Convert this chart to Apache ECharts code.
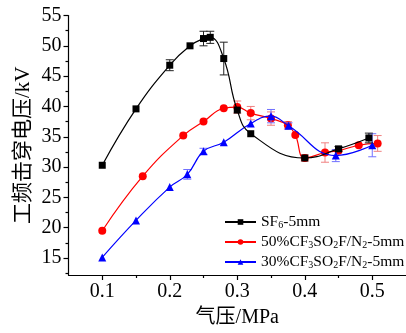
<!DOCTYPE html>
<html>
<head>
<meta charset="utf-8">
<script src="https://cdn.jsdelivr.net/npm/echarts@6/dist/echarts.min.js"></script>
<style>
  html, body { margin: 0; padding: 0; background: #fff; }
  #chart { width: 406px; height: 333px; }
</style>
</head>
<body>
<div id="chart"></div>
<script>
// Breakdown voltage vs. gas pressure, 5 mm gap
const seriesNames = ['SF6-5mm', '50%CF3SO2F/N2-5mm', '30%CF3SO2F/N2-5mm'];

const sf6Pressure = [0.1, 0.15, 0.2, 0.23, 0.25, 0.26, 0.28, 0.3, 0.32, 0.4, 0.45, 0.495];
const sf6Voltage  = [30.3, 39.6, 46.8, 50.0, 51.2, 51.4, 47.9, 39.4, 35.5, 31.5, 33.0, 34.8];
const sf6Err      = [0, 0, 0.9, 0, 1.2, 1.0, 2.7, 0, 0, 0, 0.4, 0.8];

const mix50Pressure = [0.1, 0.16, 0.22, 0.25, 0.28, 0.3, 0.32, 0.35, 0.375, 0.386, 0.4, 0.43, 0.45, 0.48, 0.508];
const mix50Voltage  = [19.5, 28.5, 35.2, 37.5, 39.7, 39.9, 38.9, 38.0, 36.9, 35.3, 31.5, 32.4, 32.7, 33.6, 33.9];
const mix50Err      = [0, 0, 0, 0, 0, 1.0, 1.1, 1.1, 0.6, 0, 0.5, 1.6, 0, 0, 1.3];

const mix30Pressure = [0.1, 0.15, 0.2, 0.226, 0.25, 0.28, 0.32, 0.35, 0.376, 0.446, 0.5];
const mix30Voltage  = [15.1, 21.2, 26.7, 28.8, 32.6, 34.1, 37.2, 38.4, 36.8, 31.9, 33.6];
const mix30Err      = [0, 0, 0, 0.8, 0.5, 0, 0, 1.1, 0.5, 1.0, 1.9];

const xTickValues  = [0.1, 0.2, 0.3, 0.4, 0.5];
const xMinorValues = [0.15, 0.25, 0.35, 0.45];
const yTickValues  = [15, 20, 25, 30, 35, 40, 45, 50, 55];
const yMinorValues = [12.5, 17.5, 22.5, 27.5, 32.5, 37.5, 42.5, 47.5, 52.5];

const legendRich = {
  'SF6-5mm': 'SF{sub|6}-5mm',
  '50%CF3SO2F/N2-5mm': '50%CF{sub|3}SO{sub|2}F/N{sub|2}-5mm',
  '30%CF3SO2F/N2-5mm': '30%CF{sub|3}SO{sub|2}F/N{sub|2}-5mm'
};

const SERIF = "'Liberation Serif', 'Noto Sans CJK SC', serif";

function pairs(xs, ys) { return xs.map((x, i) => [x, ys[i]]); }
function bars(xs, ys, es) {
  const out = [];
  xs.forEach((x, i) => { if (es[i] > 0) out.push([x, ys[i] - es[i], ys[i] + es[i]]); });
  return out;
}

function errorBarItem(params, api) {
  const x = api.value(0);
  const lo = api.coord([x, api.value(1)]);
  const hi = api.coord([x, api.value(2)]);
  const w = 4;
  const style = { stroke: api.visual('color'), lineWidth: 1 };
  return {
    type: 'group',
    children: [
      { type: 'line', shape: { x1: lo[0], y1: lo[1], x2: hi[0], y2: hi[1] }, style },
      { type: 'line', shape: { x1: hi[0] - w, y1: hi[1], x2: hi[0] + w, y2: hi[1] }, style },
      { type: 'line', shape: { x1: lo[0] - w, y1: lo[1], x2: lo[0] + w, y2: lo[1] }, style }
    ]
  };
}

function lineSeries(name, xs, ys, color, symbol, size, z) {
  return {
    name, type: 'line', data: pairs(xs, ys), smooth: 0.45,
    symbol, symbolSize: size, z,
    lineStyle: { color, width: 1.2 },
    itemStyle: { color },
    emphasis: { disabled: true }
  };
}

function errSeries(xs, ys, es, color, z) {
  return {
    type: 'custom', renderItem: errorBarItem, data: bars(xs, ys, es),
    encode: { x: 0, y: [1, 2] }, itemStyle: { color }, z, silent: true
  };
}

const chart = echarts.init(document.getElementById('chart'));
chart.setOption({
  animation: false,
  backgroundColor: '#fff',
  grid: { left: 68.5, top: 15.5, width: 340.5, bottom: 50 },
  xAxis: [{
    type: 'value', min: 0.05, max: 0.55,
    name: '气压/MPa', nameLocation: 'middle', nameGap: 33, nameMoveOverlap: false,
    nameTextStyle: { fontFamily: SERIF, fontSize: 20, color: '#000' },
    axisLine: { lineStyle: { color: '#000', width: 1.2 } },
    axisTick: { customValues: xTickValues, length: 5, lineStyle: { color: '#000', width: 1.2 } },
    axisLabel: { customValues: xTickValues, margin: 7, fontFamily: SERIF, fontSize: 20, color: '#000',
                 formatter: v => v.toFixed(1) },
    splitLine: { show: false }
  }, {
    type: 'value', min: 0.05, max: 0.55, position: 'bottom',
    axisLine: { show: false },
    axisTick: { customValues: xMinorValues, length: 3, lineStyle: { color: '#000', width: 1.2 } },
    axisLabel: { show: false },
    splitLine: { show: false }
  }],
  yAxis: [{
    type: 'value', min: 12.2, max: 55,
    name: '工频击穿电压/kV', nameLocation: 'middle', nameGap: 35, nameRotate: 90, nameMoveOverlap: false,
    nameTextStyle: { fontFamily: SERIF, fontSize: 21, color: '#000' },
    axisLine: { show: true, lineStyle: { color: '#000', width: 1.2 } },
    axisTick: { show: true, customValues: yTickValues, length: 5, lineStyle: { color: '#000', width: 1.2 } },
    axisLabel: { customValues: yTickValues, margin: 7, fontFamily: SERIF, fontSize: 20, color: '#000' },
    splitLine: { show: false }
  }, {
    type: 'value', min: 12.2, max: 55, position: 'left',
    axisLine: { show: false },
    axisTick: { show: true, customValues: yMinorValues, length: 3, lineStyle: { color: '#000', width: 1.2 } },
    axisLabel: { show: false },
    splitLine: { show: false }
  }],
  legend: {
    data: seriesNames,
    orient: 'vertical', left: 224, top: 214, padding: 0,
    itemWidth: 31, itemHeight: 7, itemGap: 4,
    formatter: n => legendRich[n],
    textStyle: {
      fontFamily: SERIF, fontSize: 15.5, color: '#000', lineHeight: 16,
      rich: { sub: { fontFamily: SERIF, fontSize: 10, verticalAlign: 'bottom', lineHeight: 16 } }
    }
  },
  series: [
    errSeries(sf6Pressure, sf6Voltage, sf6Err, '#222', 4),
    errSeries(mix50Pressure, mix50Voltage, mix50Err, '#f08080', 2),
    errSeries(mix30Pressure, mix30Voltage, mix30Err, '#7070ff', 3),
    lineSeries(seriesNames[0], sf6Pressure, sf6Voltage, '#000000', 'rect', 7, 4),
    lineSeries(seriesNames[1], mix50Pressure, mix50Voltage, '#ff0000', 'circle', 8, 2),
    lineSeries(seriesNames[2], mix30Pressure, mix30Voltage, '#0000ff', 'triangle', 8, 3)
  ]
});
</script>
</body>
</html>
